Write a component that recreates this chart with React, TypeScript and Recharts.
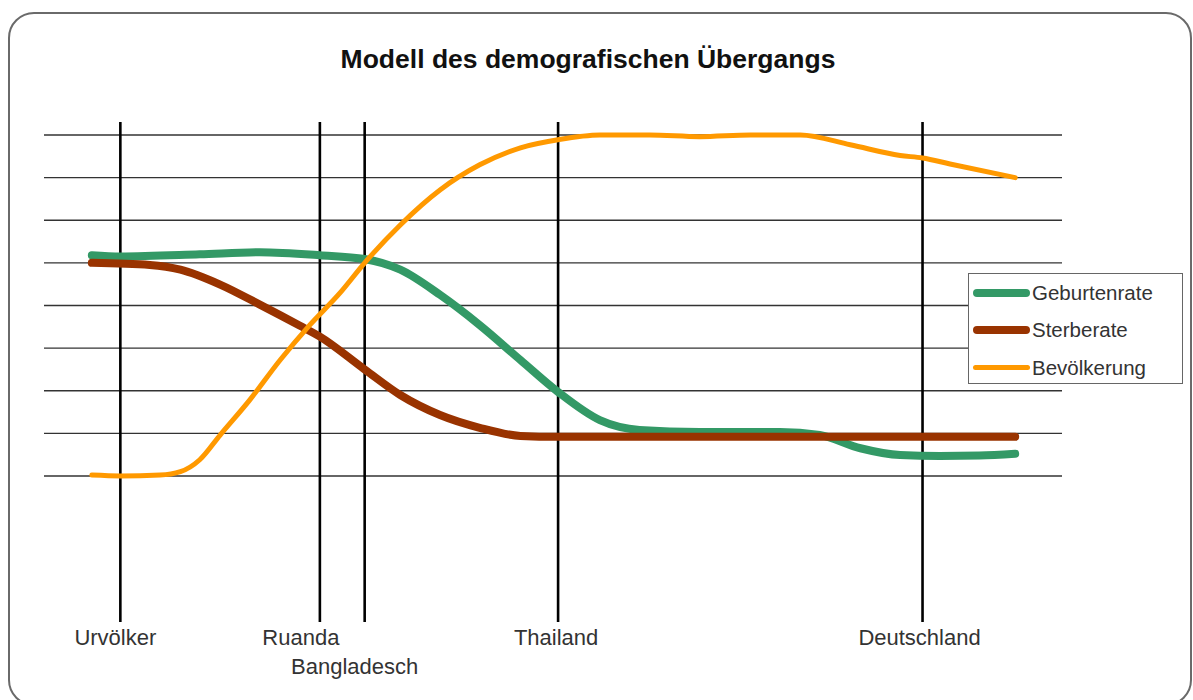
import { LineChart, Line, XAxis, YAxis, ReferenceLine } from "recharts";

// x: abstract time axis 0..100, y: grid units 1..9
const stages = ["Urvölker", "Ruanda", "Bangladesch", "Thailand", "Deutschland"];
const stageX = [7.5, 27.1, 31.5, 50.5, 86.3];
const gridLevels = [1, 2, 3, 4, 5, 6, 7, 8, 9];

const birthX = [4.7, 7.5, 15.3, 21.2, 27.1, 31.5, 35.0, 38.9, 42.8, 46.8, 50.5, 54.6, 58.5, 64.4, 72.3, 76.2, 80.2, 84.1, 88.0, 91.9, 95.4];
const birthRate = [6.18, 6.15, 6.2, 6.25, 6.18, 6.09, 5.84, 5.25, 4.54, 3.72, 2.97, 2.31, 2.08, 2.03, 2.03, 1.96, 1.65, 1.49, 1.47, 1.48, 1.52];

const deathX = [4.7, 10.4, 13.4, 17.3, 21.2, 25.1, 27.1, 31.5, 35.0, 38.9, 42.8, 46.8, 50.5, 64.4, 80.0, 95.4];
const deathRate = [6.0, 5.95, 5.84, 5.49, 5.02, 4.53, 4.27, 3.5, 2.9, 2.43, 2.13, 1.94, 1.92, 1.92, 1.92, 1.92];

const popX = [4.7, 7.5, 11.4, 13.4, 15.3, 17.3, 20.2, 23.2, 26.1, 29.1, 31.5, 35.0, 38.9, 42.8, 46.8, 50.5, 54.6, 59.5, 64.4, 69.4, 74.3, 79.2, 84.1, 86.3, 89.0, 95.4];
const population = [1.02, 1.0, 1.02, 1.1, 1.38, 1.96, 2.78, 3.72, 4.54, 5.3, 6.0, 6.89, 7.71, 8.3, 8.7, 8.89, 9.0, 9.0, 8.96, 9.0, 9.0, 8.77, 8.52, 8.46, 8.32, 8.0];

const toPoints = (xs: number[], ys: number[]) => xs.map((x, i) => ({ x, y: ys[i] }));

const series = [
  { name: "Geburtenrate", color: "#339966", width: 8, data: toPoints(birthX, birthRate) },
  { name: "Sterberate", color: "#993300", width: 8, data: toPoints(deathX, deathRate) },
  { name: "Bevölkerung", color: "#FF9900", width: 5, data: toPoints(popX, population) },
];

const font = "'Liberation Sans', Arial, sans-serif";

const LegendBox = () => (
  <div
    style={{
      position: "absolute",
      left: 968,
      top: 273,
      width: 215,
      height: 111,
      border: "1.5px solid #666",
      background: "#fff",
      boxSizing: "border-box",
      padding: "0 0 0 4px",
      fontFamily: font,
    }}
  >
    {series.map((s) => (
      <div key={s.name} style={{ display: "flex", alignItems: "center", height: 37.5, marginTop: 0 }}>
        <div style={{ width: 57, height: s.width, background: s.color, borderRadius: 4 }} />
        <span style={{ fontSize: 20.5, color: "#333", marginLeft: 2 }}>{s.name}</span>
      </div>
    ))}
  </div>
);

const StageLabel = (props: any) => {
  const { viewBox, value, dx, dy } = props;
  return (
    <text
      x={viewBox.x + dx}
      y={viewBox.y + viewBox.height + dy}
      textAnchor="middle"
      fontSize={22}
      fill="#333"
      fontFamily={font}
    >
      {value}
    </text>
  );
};

const labelShift = [
  { dx: -5, dy: 23 },
  { dx: -19, dy: 23 },
  { dx: -10, dy: 52 },
  { dx: -2, dy: 23 },
  { dx: -3, dy: 23 },
];

export default function App() {
  return (
    <div style={{ position: "absolute", left: 0, top: 0, width: 1193, height: 700, background: "#fff", overflow: "hidden" }}>
      <div
        style={{
          position: "absolute",
          left: 8,
          top: 12,
          width: 1184,
          height: 694,
          border: "2px solid #6a6a6a",
          borderRadius: 26,
          boxSizing: "border-box",
        }}
      />
      <div
        style={{
          position: "absolute",
          left: 0,
          width: 1176,
          top: 44,
          textAlign: "center",
          fontFamily: font,
          fontWeight: "bold",
          fontSize: 26.5,
          color: "#111",
        }}
      >
        Modell des demografischen Übergangs
      </div>
      <div style={{ position: "absolute", left: 0, top: 0 }}>
        <LineChart width={1193} height={700} margin={{ top: 122, right: 131, bottom: 78, left: 44 }}>
          <XAxis type="number" dataKey="x" domain={[0, 100]} hide allowDuplicatedCategory={false} />
          <YAxis type="number" dataKey="y" domain={[-2.427, 9.305]} hide />
          {gridLevels.map((g) => (
            <ReferenceLine key={g} y={g} stroke="#333" strokeWidth={1.4} />
          ))}
          {stages.map((s, i) => (
            <ReferenceLine
              key={s}
              x={stageX[i]}
              stroke="#000"
              strokeWidth={2.6}
              label={<StageLabel value={s} dx={labelShift[i].dx} dy={labelShift[i].dy} />}
            />
          ))}
          {series.map((s) => (
            <Line
              key={s.name}
              data={s.data}
              dataKey="y"
              name={s.name}
              type="monotone"
              stroke={s.color}
              strokeWidth={s.width}
              strokeLinecap="round"
              dot={false}
              activeDot={false}
              isAnimationActive={false}
            />
          ))}
        </LineChart>
      </div>
      <LegendBox />
    </div>
  );
}
